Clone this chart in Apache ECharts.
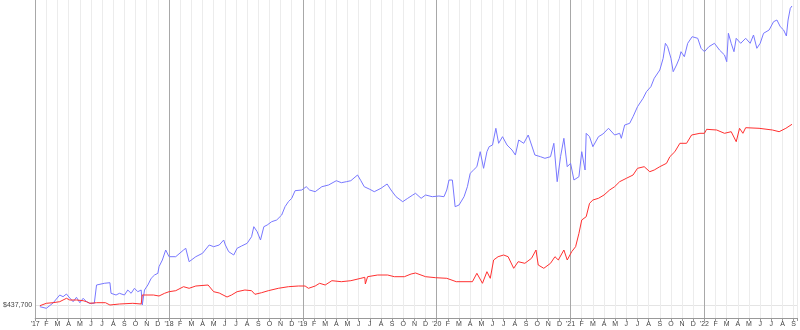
<!DOCTYPE html>
<html>
<head>
<meta charset="utf-8">
<script src="https://cdn.jsdelivr.net/npm/echarts@6/dist/echarts.min.js"></script>
<style>html,body{margin:0;padding:0;background:#fff}#c{width:800px;height:330px}</style>
</head>
<body>
<div id="c"></div>
<script>
// x = months since Jan 2017 (fractional)
const monthLetters = ['J','F','M','A','M','J','J','A','S','O','N','D'];
const yearLabels = ["'17","'18","'19","'20","'21","'22"];
const yLabelValues = [437700];

const blueMonth = [0.42,1.0,1.6,2.2,2.5,2.8,3.1,3.4,3.7,4.0,4.3,4.6,4.9,5.3,5.5,6.2,6.7,6.8,7.25,7.55,8.0,8.3,8.6,8.9,9.2,9.5,9.6,9.8,10.1,10.4,10.7,11.0,11.1,11.4,11.7,12.0,12.6,13.3,13.5,13.8,14.4,15.0,15.6,16.0,16.5,16.9,17.05,17.35,17.8,18.1,18.5,19.0,19.4,19.6,19.9,20.2,20.5,20.8,21.2,21.65,22.1,22.4,22.7,23.0,23.3,23.9,24.3,24.6,25.1,25.7,26.3,27.0,27.45,27.9,28.3,28.9,29.2,29.5,30.0,30.4,31.0,31.55,31.9,32.35,32.95,33.4,33.85,34.1,34.6,35.0,35.6,36.2,36.65,36.9,37.1,37.4,37.65,38.0,38.45,38.75,39.0,39.3,39.6,39.9,40.2,40.5,40.7,41.0,41.3,41.55,41.9,42.3,42.75,43.05,43.35,43.8,44.2,44.5,44.8,45.3,45.7,46.2,46.5,46.8,47.1,47.4,47.7,48.0,48.3,48.75,49.0,49.3,49.4,49.7,50.0,50.5,50.9,51.4,51.95,52.4,52.55,52.85,53.3,53.6,54.0,54.5,54.8,55.2,55.5,56.0,56.3,56.5,56.7,57.0,57.2,57.5,57.75,57.9,58.2,58.5,58.9,59.4,59.7,60.0,60.4,60.9,61.35,61.8,62.0,62.15,62.4,62.65,62.85,63.25,63.7,64.1,64.4,64.7,65.0,65.3,65.8,66.2,66.5,66.8,67.1,67.35,67.5,67.7,67.85];
const blueValue = [432600,427800,443700,467700,462600,470700,458700,447600,460800,444600,457800,447600,442800,442800,497700,502800,504600,472800,467700,472800,467700,482700,472800,487800,477600,482700,437700,482700,497700,517800,527700,532800,552600,572700,602700,582600,582600,602700,607800,567600,582600,592800,617700,612600,617700,632700,617700,597600,587700,607800,614700,622800,642600,672600,657600,632700,672600,677700,687600,692700,707700,732600,747600,757800,780600,782700,792600,782700,777600,792600,797700,810600,804600,807600,810600,827700,810600,792600,784800,777600,787800,800700,782700,762600,747600,757800,767700,772800,757800,767700,762600,764700,762600,782700,812700,812700,732600,737700,762600,792600,832800,842700,852600,897600,847800,897600,912600,917700,967800,922800,942600,917700,902700,887700,932700,922800,947700,917700,887700,882600,877800,882600,922800,807600,882600,937800,852600,862800,812700,822600,897600,842700,952800,942600,912600,942600,950700,967800,947700,952800,937800,977700,982800,1002600,1032600,1057800,1077600,1092600,1117800,1142700,1177800,1222800,1212600,1177800,1137600,1157700,1177800,1197600,1182600,1222800,1242600,1237800,1207800,1197600,1212600,1222800,1202700,1187700,1167600,1252800,1222800,1197600,1237800,1222800,1237800,1222800,1247700,1207800,1222800,1252800,1262700,1287600,1292700,1272600,1262700,1244700,1292700,1327800,1334700];

const redMonth = [0.42,1.0,1.6,2.2,2.8,3.1,3.7,4.3,4.6,4.9,5.5,6.3,6.7,7.55,8.75,9.5,9.6,10.6,11.1,11.6,12.0,12.6,13.3,13.8,14.4,15.5,16.0,16.5,17.2,17.6,18.1,18.8,19.4,19.7,20.3,20.9,21.8,22.7,23.6,24.2,24.5,25.1,25.5,26.0,26.6,27.45,28.3,29.2,29.55,29.6,29.8,30.7,31.6,32.2,33.1,33.7,34.1,35.0,35.9,36.9,37.75,39.2,39.6,40.1,40.5,40.8,41.1,41.5,42.0,42.4,42.9,43.3,43.9,44.5,44.9,45.1,45.6,46.2,46.6,46.9,47.4,47.7,48.1,48.45,48.75,49.0,49.4,49.7,50.0,50.5,51.0,51.5,51.95,52.4,53.0,53.6,54.0,54.6,55.1,55.5,56.0,56.6,56.9,57.35,57.8,58.4,58.85,59.6,60.0,60.2,61.1,61.8,62.4,62.85,63.15,63.45,63.7,64.9,66.1,66.7,67.3,67.85];
const redValue = [435600,442800,444600,447600,457800,452700,452700,450600,447600,442800,444600,444600,437700,440700,442800,440700,467700,467700,464700,472800,477600,480600,492600,487800,494700,497700,477600,473700,461700,467700,477600,482700,480600,469800,474600,480600,487800,492600,494700,494700,487800,494700,502800,497700,510600,507600,510600,517800,520800,500700,522600,527700,527700,522600,522600,530700,533700,522600,519600,517800,507600,507600,532800,502800,537600,517800,572700,582600,587700,582600,547800,567600,562800,577800,602700,557700,547800,562800,582600,572700,602700,572700,597600,612600,652800,692700,702600,742800,752700,757800,767700,782700,792600,807600,817800,827700,847800,852600,837600,842700,852600,862800,882600,897600,922800,922800,947700,952800,952800,964800,962700,952800,957600,927600,967800,952800,969600,967800,962700,957600,967800,979800];

const pair = (xs, ys) => xs.map((x, i) => [x, ys[i]]);

const splitColors = ['#a8a8a8'];
for (let i = 1; i < 12; i++) splitColors.push('#ececec');

const chart = echarts.init(document.getElementById('c'), null, {renderer: 'canvas'});
chart.setOption({
  animation: false,
  backgroundColor: '#fff',
  grid: {left: 32, right: 2, top: 0, bottom: 12, containLabel: false},
  xAxis: {
    type: 'value', min: 0, max: 68.3, interval: 1,
    axisLine: {show: true, lineStyle: {color: '#999', width: 1}},
    axisTick: {show: true, length: 3, lineStyle: {color: '#999'}},
    axisLabel: {
      fontSize: 7, color: '#444', margin: 3, fontFamily: 'Liberation Sans, Arial, sans-serif',
      formatter: v => {
        if (Math.abs(v - Math.round(v)) > 1e-6) return '';
        const m = Math.round(v);
        if (m % 12 === 0) return yearLabels[m / 12] || '';
        return monthLetters[m % 12];
      }
    },
    splitLine: {show: true, lineStyle: {color: splitColors, width: 1}}
  },
  yAxis: {
    type: 'value', min: 398700, max: 1352700,
    axisLine: {show: false},
    axisTick: {show: false, customValues: yLabelValues},
    axisLabel: {
      customValues: yLabelValues, fontSize: 7, color: '#444', margin: 3,
      fontFamily: 'Liberation Sans, Arial, sans-serif',
      formatter: v => '$' + v.toLocaleString('en-US')
    },
    splitLine: {show: true, lineStyle: {color: '#e4e4e4', width: 1}}
  },
  series: [
    {type: 'line', data: pair(blueMonth, blueValue), showSymbol: false, symbol: 'none',
     lineStyle: {color: '#7878ff', width: 1}, z: 2},
    {type: 'line', data: pair(redMonth, redValue), showSymbol: false, symbol: 'none',
     lineStyle: {color: '#ff3030', width: 1}, z: 3}
  ]
});
</script>
</body>
</html>
